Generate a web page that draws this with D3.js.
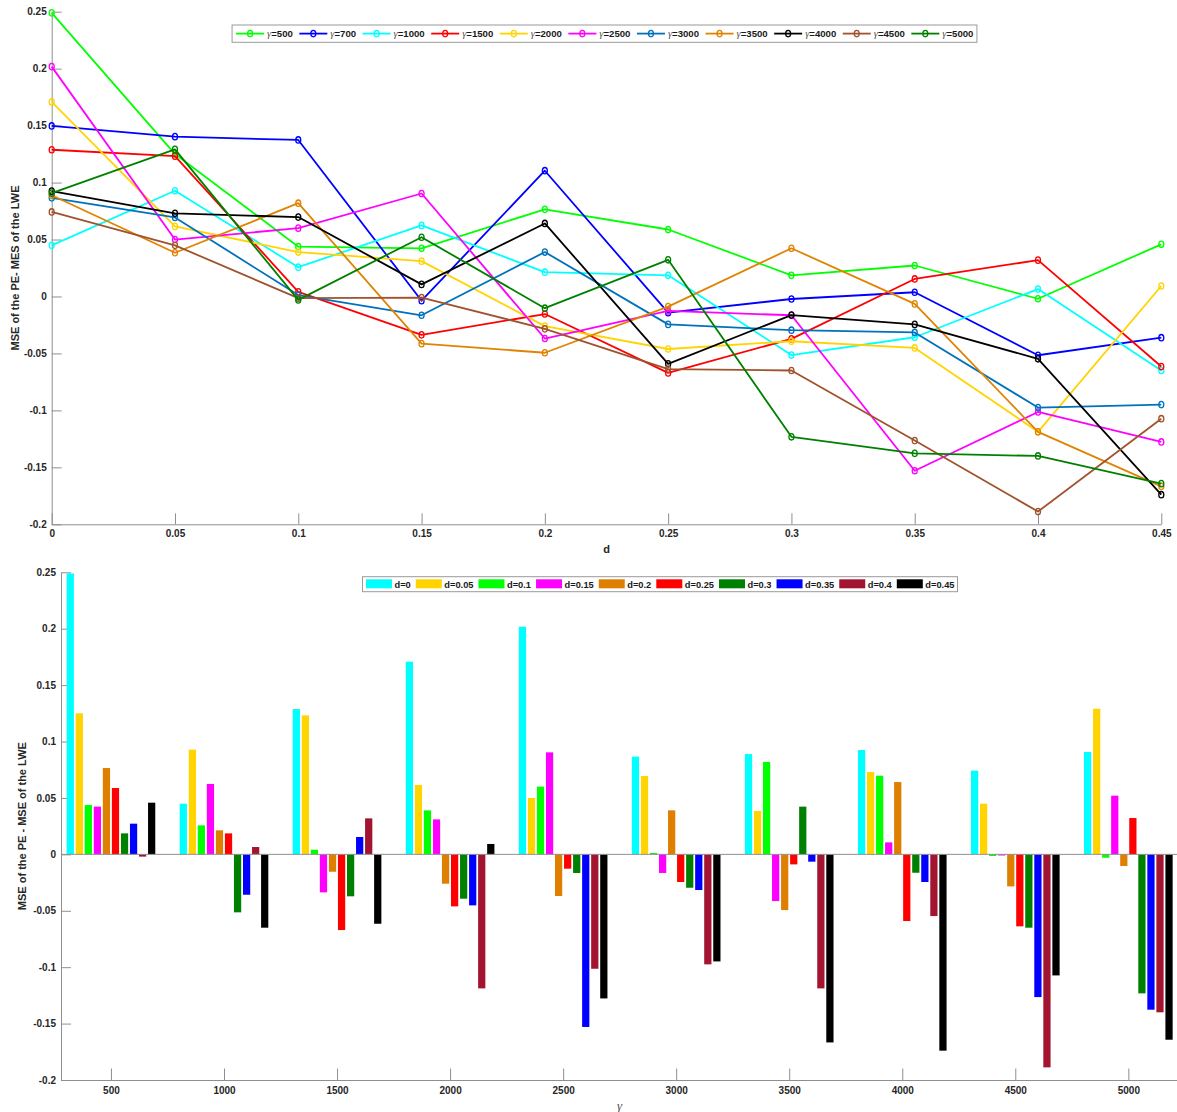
<!DOCTYPE html>
<html>
<head>
<meta charset="utf-8">
<script src="https://cdn.jsdelivr.net/npm/d3@7"></script>
<style>
  body { margin: 0; background: #fff; }
  svg { display: block; font-family: "Liberation Sans", Arial, Helvetica, sans-serif; }
  .tick text { font-weight: bold; font-size: 10px; fill: #262626; }
  .axis path, .axis line { stroke: #8f8f8f; }
</style>
</head>
<body>
<svg id="chart" width="1177" height="1112"></svg>
<script>
// data: d values and gamma series (MSE of PE - MSE of LWE)
const dVals = [0, 0.05, 0.1, 0.15, 0.2, 0.25, 0.3, 0.35, 0.4, 0.45];
const gammaLine = [500, 700, 1000, 1500, 2000, 2500, 3000, 3500, 4000, 4500, 5000];
const g500  = [0.249, 0.125, 0.0437, 0.0423, 0.0765, 0.0588, 0.0186, 0.0272, -0.002, 0.0458];
const g700  = [0.1497, 0.1403, 0.1374, -0.0037, 0.1104, -0.0142, -0.0022, 0.0037, -0.0516, -0.0362];
const g1000 = [0.0449, 0.0928, 0.0257, 0.0624, 0.0213, 0.0186, -0.0514, -0.0358, 0.0065, -0.065];
const g1500 = [0.1288, 0.1232, 0.0041, -0.0337, -0.0154, -0.0671, -0.0372, 0.0154, 0.0319, -0.0615];
const g2000 = [0.1708, 0.0615, 0.039, 0.031, -0.026, -0.0461, -0.0393, -0.0452, -0.1188, 0.0092];
const g2500 = [0.2018, 0.05, 0.06, 0.0904, -0.0369, -0.0127, -0.0165, -0.153, -0.1014, -0.1277];
const g3000 = [0.0866, 0.0694, 0.0012, -0.0165, 0.039, -0.0245, -0.0296, -0.0316, -0.0975, -0.0949];
const g3500 = [0.0889, 0.0384, 0.0819, -0.0414, -0.0494, -0.0089, 0.0423, -0.0065, -0.1188, -0.1667];
const g4000 = [0.0925, 0.073, 0.0697, 0.0106, 0.0641, -0.0591, -0.0163, -0.0245, -0.0547, -0.174];
const g4500 = [0.0742, 0.0449, -0.0015, -0.001, -0.0284, -0.0638, -0.065, -0.1265, -0.1888, -0.1073];
const g5000 = [0.0907, 0.1291, -0.003, 0.052, -0.0103, 0.0322, -0.1232, -0.1377, -0.14, -0.1643];
const valuesByGamma = [g500, g700, g1000, g1500, g2000, g2500, g3000, g3500, g4000, g4500, g5000];
const lineColors = ["#00ff00", "#0000ff", "#00ffff", "#ff0000", "#ffd400", "#ff00ff",
                    "#0072bd", "#e08300", "#000000", "#a0522d", "#008000"];

const barGammas = [500, 1000, 1500, 2000, 2500, 3000, 3500, 4000, 4500, 5000];
const dColors = ["#00ffff", "#ffd400", "#00ff00", "#ff00ff", "#df7f00", "#ff0000",
                 "#008000", "#0000ff", "#a2142f", "#000000"];
const yTicks = [-0.2, -0.15, -0.1, -0.05, 0, 0.05, 0.1, 0.15, 0.2, 0.25];
const dTicks = dVals;
const gammaTicks = barGammas;

const svg = d3.select("#chart");
svg.append("rect").attr("width", 1177).attr("height", 1112).attr("fill", "#fff");
const fmt = v => String(+v.toFixed(2));

// ---------- top: line chart ----------
const x1 = d3.scaleLinear().domain([0, 0.45]).range([51.7, 1161.3]);
const y1 = d3.scaleLinear().domain([-0.2, 0.25]).range([524.3, 11.7]);

svg.append("g").attr("class", "axis")
  .attr("transform", `translate(0,${y1(-0.2)})`)
  .call(d3.axisBottom(x1).tickValues(dTicks).tickFormat(fmt).tickSizeInner(-11).tickSizeOuter(0).tickPadding(6));
svg.append("g").attr("class", "axis")
  .attr("transform", `translate(${x1(0)},0)`)
  .call(d3.axisLeft(y1).tickValues(yTicks).tickFormat(fmt).tickSizeInner(-10).tickSizeOuter(0).tickPadding(5));

const line = d3.line().x((v, i) => x1(dVals[i])).y(v => y1(v));
gammaLine.forEach((g, k) => {
  const s = svg.append("g");
  s.append("path").datum(valuesByGamma[k])
    .attr("d", line).attr("fill", "none")
    .attr("stroke", lineColors[k]).attr("stroke-width", 1.8).attr("stroke-linejoin", "round");
  s.selectAll("ellipse").data(valuesByGamma[k]).join("ellipse")
    .attr("cx", (v, i) => x1(dVals[i])).attr("cy", v => y1(v))
    .attr("rx", 2.5).attr("ry", 3.2)
    .attr("fill", "none").attr("stroke", lineColors[k]).attr("stroke-width", 1.3);
});

svg.append("text").attr("x", x1(0.225)).attr("y", 553)
  .attr("text-anchor", "middle").attr("font-weight", "bold").attr("font-size", 11)
  .attr("fill", "#262626").text("d");
svg.append("text").attr("transform", `translate(19,${y1(0.025)}) rotate(-90)`)
  .attr("text-anchor", "middle").attr("font-weight", "bold").attr("font-size", 11)
  .attr("fill", "#262626").text("MSE of the PE- MES of the LWE");

// top legend
const leg1 = svg.append("g");
const leg1Box = leg1.append("rect");
let cx = 4;
gammaLine.forEach((g, k) => {
  const it = leg1.append("g").attr("transform", `translate(${cx},0)`);
  it.append("line").attr("x1", 0).attr("x2", 28).attr("y1", 33.6).attr("y2", 33.6)
    .attr("stroke", lineColors[k]).attr("stroke-width", 1.8);
  it.append("ellipse").attr("cx", 14).attr("cy", 33.6).attr("rx", 2.5).attr("ry", 3.2)
    .attr("fill", "none").attr("stroke", lineColors[k]).attr("stroke-width", 1.3);
  const t = it.append("text").attr("x", 31).attr("y", 36.9).attr("font-size", 9.6).attr("fill", "#1a1a1a");
  t.append("tspan").attr("font-family", "'Liberation Serif', 'DejaVu Serif', serif")
    .attr("font-style", "italic").attr("font-size", 10.5).attr("fill", "#555").text("γ");
  t.append("tspan").attr("font-weight", "bold").text("=" + g);
  cx += 31 + t.node().getComputedTextLength() + 6.5;
});
const w1 = cx - 3;
leg1.attr("transform", `translate(${604.5 - w1 / 2},0)`);
leg1Box.attr("x", 0).attr("y", 25).attr("width", w1).attr("height", 17.3)
  .attr("fill", "#fff").attr("stroke", "#9a9a9a").attr("stroke-width", 1);

// ---------- bottom: grouped bar chart ----------
const x2 = d3.scaleLinear().domain([279, 5221]).range([61, 1178.3]);
const y2 = d3.scaleLinear().domain([-0.2, 0.25]).range([1080, 572.3]);
const groupStep = 500 * 0.8 / dVals.length;
const barW = x2(groupStep * 0.8) - x2(0);

svg.append("g").attr("class", "axis")
  .attr("transform", `translate(0,${y2(-0.2)})`)
  .call(d3.axisBottom(x2).tickValues(gammaTicks).tickFormat(d3.format("d")).tickSizeInner(-11.5).tickSizeOuter(0).tickPadding(6.5));
svg.append("g").attr("class", "axis")
  .attr("transform", `translate(${x2(279)},0)`)
  .call(d3.axisLeft(y2).tickValues(yTicks).tickFormat(fmt).tickSizeInner(-10).tickSizeOuter(0).tickPadding(5));

barGammas.forEach(g => {
  const vals = valuesByGamma[gammaLine.indexOf(g)];
  svg.append("g").selectAll("rect").data(vals).join("rect")
    .attr("x", (v, j) => x2(g + (j - 4.5) * groupStep) - barW / 2)
    .attr("width", barW)
    .attr("y", v => Math.min(y2(v), y2(0)))
    .attr("height", v => Math.abs(y2(v) - y2(0)))
    .attr("fill", (v, j) => dColors[j]);
});
svg.append("line").attr("x1", x2(279)).attr("x2", 1177).attr("y1", y2(0)).attr("y2", y2(0))
  .attr("stroke", "#8f8f8f").attr("stroke-width", 1);

svg.append("text").attr("x", x2(2750)).attr("y", 1110)
  .attr("text-anchor", "middle").attr("font-family", "'Liberation Serif', 'DejaVu Serif', serif")
  .attr("font-style", "italic").attr("font-size", 13).attr("fill", "#555").text("γ");
svg.append("text").attr("transform", `translate(26,${y2(0.025)}) rotate(-90)`)
  .attr("text-anchor", "middle").attr("font-weight", "bold").attr("font-size", 11)
  .attr("fill", "#262626").text("MSE of the PE - MSE of the LWE");

// bottom legend
const leg2 = svg.append("g");
const leg2Box = leg2.append("rect");
let bx = 3.5;
dVals.forEach((d, j) => {
  const it = leg2.append("g").attr("transform", `translate(${bx},0)`);
  it.append("rect").attr("x", 0).attr("y", 579.3).attr("width", 26).attr("height", 9)
    .attr("fill", dColors[j]);
  const t = it.append("text").attr("x", 28.5).attr("y", 587.7).attr("font-size", 9.3)
    .attr("font-weight", "bold").attr("fill", "#1a1a1a").text("d=" + fmt(d));
  bx += 28.5 + t.node().getComputedTextLength() + 5;
});
const w2 = bx - 2;
leg2.attr("transform", `translate(${660 - w2 / 2},0)`);
leg2Box.attr("x", 0).attr("y", 576.7).attr("width", w2).attr("height", 15)
  .attr("fill", "#fff").attr("stroke", "#9a9a9a").attr("stroke-width", 1);
</script>
</body>
</html>
